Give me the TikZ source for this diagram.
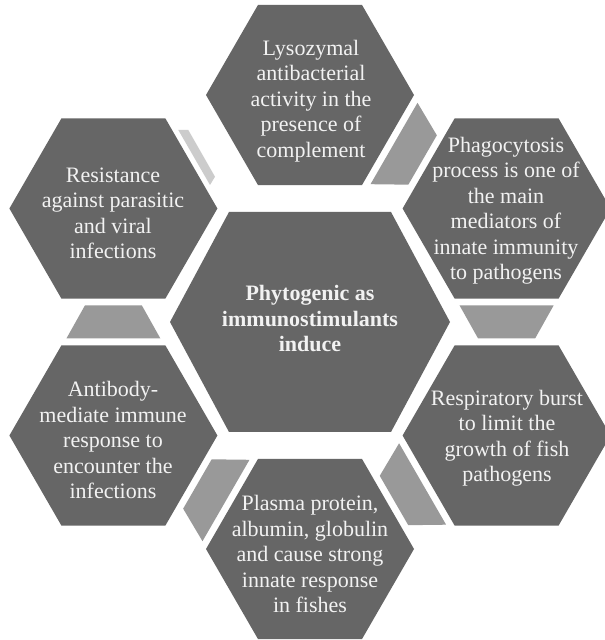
\documentclass[tikz,border=0pt]{standalone}
\usepackage{fontspec}
\setmainfont{Liberation Serif}
\usetikzlibrary{calc}
\definecolor{hexgray}{HTML}{666666}
\definecolor{conngray}{HTML}{999999}
\definecolor{lightconn}{HTML}{CCCCCC}
\definecolor{txtcol}{HTML}{F2F2F2}
\tikzset{
  hexshape/.pic={\fill[hexgray] (0:104) -- (60:104) -- (120:104) -- (180:104) -- (240:104) -- (300:104) -- cycle;},
  conn/.pic={\fill[conngray] (-16.5,47) -- (-16.5,-47) -- (16.5,-28.5) -- (16.5,28.5) -- cycle;},
  txt/.style={text=txtcol, align=center, inner sep=0pt, font=\fontsize{22}{25.5}\selectfont},
  boldtxt/.style={txt, font=\fontsize{22}{25.5}\selectfont\bfseries},
}
\begin{document}
\begin{tikzpicture}[x=1pt,y=1pt]
\useasboundingbox (0,0) rectangle (605,640);
\fill[white] (0,0) rectangle (605,640);
\begin{scope}
\clip (0,0) rectangle (605,640);
\coordinate (cC) at (310,318);
\coordinate (cTop) at (310,545);
\coordinate (cTR) at (506.6,431.5);
\coordinate (cBR) at (506.6,204.5);
\coordinate (cBot) at (310,91);
\coordinate (cBL) at (113.4,204.5);
\coordinate (cTL) at (113.4,431.5);
% hexagons
\foreach \c in {cTop,cTR,cBR,cBot,cBL,cTL} {\pic at (\c) {hexshape};}
\fill[hexgray] ($(cC)+(140,0)$) -- ($(cC)+(81,110)$) -- ($(cC)+(-81,110)$) -- ($(cC)+(-140,0)$) -- ($(cC)+(-81,-110)$) -- ($(cC)+(81,-110)$) -- cycle;
% connectors
\pic[rotate=-30] at ($(cTop)!0.5!(cTR)$) {conn};
\pic[rotate=-90] at ($(cTR)!0.5!(cBR)$) {conn};
\pic[rotate=210] at ($(cBR)!0.5!(cBot)$) {conn};
\pic[rotate=150] at ($(cBot)!0.5!(cBL)$) {conn};
\pic[rotate=90] at ($(cBL)!0.5!(cTL)$) {conn};
\fill[lightconn] (178.3,510) -- (188.3,510) -- (215,463.3) -- (210,455) -- cycle;
\end{scope}
% texts
\node[txt] (nTop) at (311,539) {Lysozymal\\antibacterial\\activity in the\\presence of\\complement};
\node[txt] (nTL) at (113,426.5) {Resistance\\against parasitic\\and viral\\infections};
\node[txt] (nTR) at (506,429.5) {Phagocytosis\\process is one of\\the main\\mediators of\\innate immunity\\to pathogens};
\node[boldtxt] (nC) at (310,321) {Phytogenic as\\immunostimulants\\induce};
\node[txt] (nBL) at (113,200) {Antibody-\\mediate immune\\response to\\encounter the\\infections};
\node[txt] (nBR) at (507,202) {Respiratory burst\\to limit the\\growth of fish\\pathogens};
\node[txt] (nBot) at (310,86) {Plasma protein,\\albumin, globulin\\and cause strong\\innate response\\in fishes};
\end{tikzpicture}
\end{document}
